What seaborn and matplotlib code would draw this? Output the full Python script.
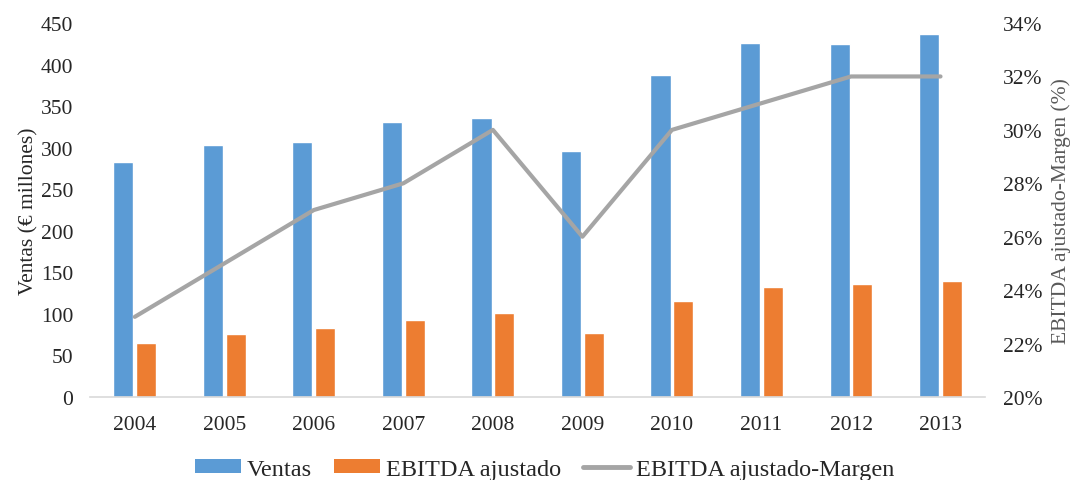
import matplotlib
matplotlib.use("Agg")
import matplotlib.pyplot as plt
import seaborn as sns
import pandas as pd
from matplotlib.ticker import FuncFormatter, MultipleLocator
from matplotlib.patches import Patch
from matplotlib.lines import Line2D

years = ["2004", "2005", "2006", "2007", "2008", "2009", "2010", "2011", "2012", "2013"]
ventas = [283, 303, 307, 331, 336, 296, 387, 426, 425, 437]
ebitda = [65, 76, 83, 93, 101, 77, 116, 132, 136, 140]
margen = [23, 25, 27, 28, 30, 26, 30, 31, 32, 32]

c_blue = "#5B9BD5"
c_orange = "#ED7D31"
c_gray = "#A5A5A5"

sns.set_style("white")
plt.rcParams["font.family"] = ["Liberation Serif", "DejaVu Serif"]
FS = 15.5

df = pd.DataFrame({
    "year": years * 2,
    "value": ventas + ebitda,
    "serie": ["Ventas"] * len(years) + ["EBITDA ajustado"] * len(years),
})

fig = plt.figure(figsize=(10.78, 4.81), dpi=100)
ax = fig.add_axes([0.0835, 0.1726, 0.8305, 0.7774])

sns.barplot(data=df, x="year", y="value", hue="serie",
            palette=[c_blue, c_orange], width=0.51, gap=0.12,
            saturation=1, ax=ax, legend=False)
ax.set_ylim(0, 450)
ax.yaxis.set_major_locator(MultipleLocator(50))
ax.set_xlim(-0.5, len(years) - 0.5)
ax.set_xlabel("")
ax.set_ylabel("Ventas (€ millones)", fontsize=FS, labelpad=2)
ax.tick_params(axis="both", length=0, labelsize=FS)
ax.tick_params(axis="y", pad=12)
ax.tick_params(axis="x", pad=13)
for s in ["top", "left", "right"]:
    ax.spines[s].set_visible(False)
ax.spines["bottom"].set_color("#D9D9D9")
ax.spines["bottom"].set_linewidth(1.2)

ax2 = ax.twinx()
sns.lineplot(x=list(range(len(years))), y=margen, color=c_gray,
             linewidth=3, ax=ax2)
ax2.set_ylim(20, 34)
ax2.yaxis.set_major_locator(MultipleLocator(2))
ax2.yaxis.set_major_formatter(FuncFormatter(lambda v, p: "%d%%" % v))
ax2.set_ylabel("EBITDA ajustado-Margen (%)", fontsize=FS, color="#595959", labelpad=6)
ax2.tick_params(axis="y", length=0, labelsize=FS, pad=13)
for s in ["top", "left", "right", "bottom"]:
    ax2.spines[s].set_visible(False)

handles = [
    Patch(facecolor=c_blue, edgecolor="none", label="Ventas"),
    Patch(facecolor=c_orange, edgecolor="none", label="EBITDA ajustado"),
    Line2D([0], [0], color=c_gray, linewidth=3.5, label="EBITDA ajustado-Margen"),
]
fig.legend(handles=handles, loc="lower center", bbox_to_anchor=(0.505, -0.045),
           ncol=3, frameon=False, fontsize=17.5, handlelength=1.9,
           handleheight=0.5, columnspacing=0.9, handletextpad=0.25)

plt.savefig("out.png", dpi=100)
